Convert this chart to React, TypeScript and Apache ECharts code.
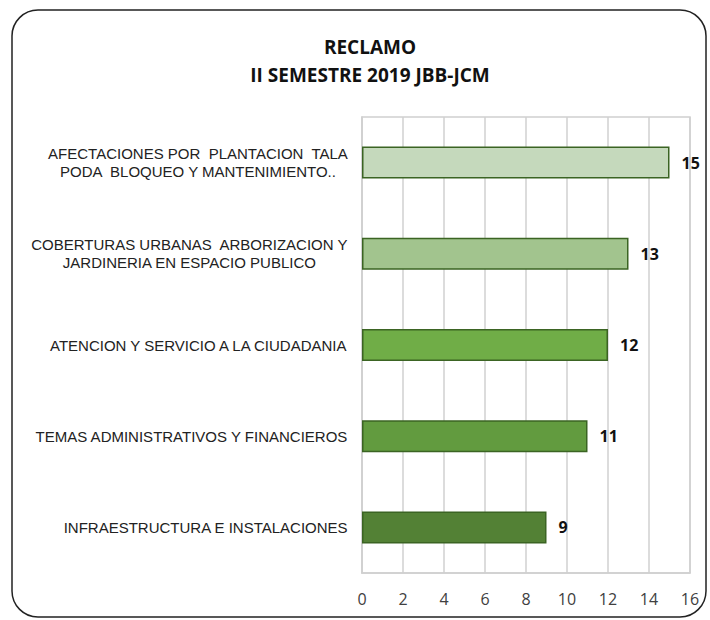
import React, { useEffect, useRef } from "react";
import * as echarts from "echarts";

const titleLines = ["RECLAMO", "II SEMESTRE 2019 JBB-JCM"];
const categories = [
  "AFECTACIONES POR  PLANTACION  TALA\nPODA  BLOQUEO Y MANTENIMIENTO..",
  "COBERTURAS URBANAS  ARBORIZACION Y\nJARDINERIA EN ESPACIO PUBLICO",
  "ATENCION Y SERVICIO A LA CIUDADANIA",
  "TEMAS ADMINISTRATIVOS Y FINANCIEROS",
  "INFRAESTRUCTURA E INSTALACIONES",
];
const values = [15, 13, 12, 11, 9];
const barColors = ["#c5d9bc", "#a2c48e", "#70ad47", "#629b3f", "#538135"];
const axisMin = 0;
const axisMax = 16;
const axisStep = 2;

export default function App() {
  const ref = useRef<HTMLDivElement>(null);
  useEffect(() => {
    if (!ref.current) return;
    const chart = echarts.init(ref.current, null, { renderer: "svg" });
    chart.setOption({
      animation: false,
      backgroundColor: "#ffffff",
      graphic: [
        {
          type: "rect",
          shape: { x: 12, y: 10, width: 694, height: 607, r: 26 },
          style: { fill: "none", stroke: "#222", lineWidth: 1.5 },
          z: -1,
        },
      ],
      title: {
        text: titleLines.join("\n"),
        left: 365,
        top: 28,
        textAlign: "center",
        textStyle: {
          fontFamily: "'Open Sans', sans-serif",
          fontWeight: "bold",
          fontSize: 19,
          lineHeight: 28,
          color: "#111",
        },
      },
      grid: {
        left: 362,
        right: 20,
        top: 117,
        bottom: 47,
        show: true,
        borderColor: "#d0d0d0",
        borderWidth: 1.5,
      },
      xAxis: {
        type: "value",
        min: axisMin,
        max: axisMax,
        interval: axisStep,
        axisLine: { show: true, lineStyle: { color: "#d0d0d0", width: 1.5 } },
        axisTick: { show: false },
        splitLine: { show: true, lineStyle: { color: "#d0d0d0", width: 1.5 } },
        axisLabel: {
          margin: 18,
          fontSize: 16,
          color: "#404040",
          fontFamily: "'Open Sans', sans-serif",
        },
      },
      yAxis: {
        type: "category",
        inverse: true,
        data: categories,
        axisLine: { show: true, lineStyle: { color: "#d0d0d0", width: 1.5 } },
        axisTick: { show: false },
        axisLabel: {
          margin: 14,
          formatter: (v: string) =>
            v
              .split("\n")
              .map((l) => `{c|${l}}`)
              .join("\n"),
          rich: {
            c: {
              align: "center",
              fontSize: 15,
              lineHeight: 18,
              color: "#222",
              fontFamily: "'Liberation Sans', Arial, sans-serif",
            },
          },
        },
      },
      series: [
        {
          type: "bar",
          barWidth: 32,
          data: values.map((v, i) => ({
            value: v,
            itemStyle: { color: barColors[i] },
          })),
          itemStyle: { borderColor: "#3b6423", borderWidth: 1.5 },
          label: {
            show: true,
            position: "right",
            distance: 12,
            fontWeight: "bold",
            fontSize: 16,
            color: "#111",
            fontFamily: "'Open Sans', sans-serif",
          },
        },
      ],
    });
    return () => chart.dispose();
  }, []);
  return (
    <div
      ref={ref}
      style={{ position: "fixed", left: 0, top: 0, width: 710, height: 620 }}
    />
  );
}
